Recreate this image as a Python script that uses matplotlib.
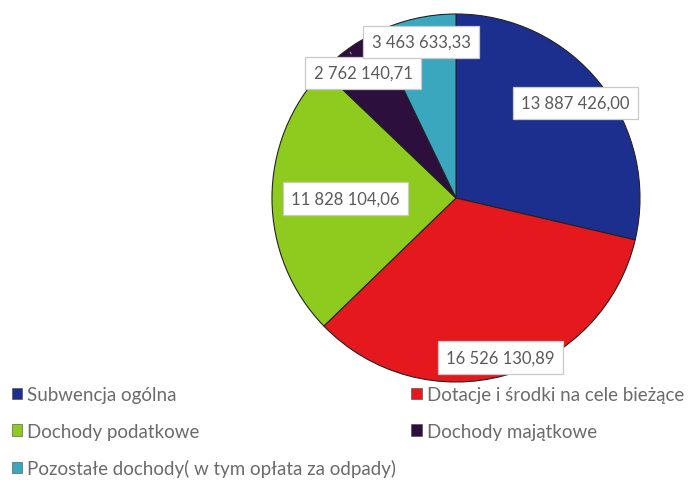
import numpy as np
import matplotlib.pyplot as plt
from matplotlib.patches import Patch

plt.rcParams['font.family'] = ['Lato', 'DejaVu Sans']

# dane
kategorie = ['Subwencja ogólna', 'Dotacje i środki na cele bieżące',
             'Dochody podatkowe', 'Dochody majątkowe',
             'Pozostałe dochody( w tym opłata za odpady)']
wartosci = [13887426.00, 16526130.89, 11828104.06, 2762140.71, 3463633.33]
etykiety = ['13 887 426,00', '16 526 130,89', '11 828 104,06',
            '2 762 140,71', '3 463 633,33']
kolory = ['#1d2f8e', '#e5181d', '#8fcb1f', '#2c0f3c', '#3ba7bf']

W, H = 691, 481
fig = plt.figure(figsize=(W / 100, H / 100), dpi=100)
fig.patch.set_facecolor('white')

# pie geometry (pixels)
cx, cy, r = 456, 199, 184
ax = fig.add_axes([(cx - r) / W, 1 - (cy + r) / H, 2 * r / W, 2 * r / H])
wedges, _ = ax.pie(wartosci, colors=kolory, startangle=90, counterclock=False,
                   radius=1, wedgeprops=dict(edgecolor='#222222', linewidth=0.8))
ax.set_xlim(-1, 1)
ax.set_ylim(-1, 1)
ax.set_aspect('equal')
ax.axis('off')

box = dict(boxstyle='square,pad=0.5', fc='white', ec='#c9c9c9', lw=0.9)
# label placement (radius factor for big slices, explicit offsets for small ones)
poz = [(0.83, None), (0.90, None), (0.60, None),
       (None, (-0.505, 0.679)), (None, (-0.19, 0.848))]
for w, lab, (rf, xy) in zip(wedges, etykiety, poz):
    mid = np.deg2rad((w.theta1 + w.theta2) / 2)
    if xy is None:
        ax.text(rf * np.cos(mid), rf * np.sin(mid), lab, ha='center', va='center',
                fontsize=12, color='#5a5a5a', bbox=box, zorder=5)
    else:
        ax.annotate(lab, xy=(0.98 * np.cos(mid), 0.98 * np.sin(mid)), xytext=xy,
                    ha='center', va='center', fontsize=12, color='#5a5a5a',
                    bbox=box, zorder=5,
                    arrowprops=dict(arrowstyle='-', color='#9a9a9a', lw=0.8))

kol = [0, 2, 4, 1, 3]
uchwyty = [Patch(facecolor=kolory[i], edgecolor='#444444', lw=0.4) for i in kol]
fig.legend(uchwyty, [kategorie[i] for i in kol], ncol=2, loc='upper left',
           bbox_to_anchor=(12 / W, 1 - 387 / H), frameon=False, fontsize=13.5,
           labelcolor='#6b6b6b', handlelength=0.55, handleheight=0.55,
           handletextpad=0.27, labelspacing=1.05, columnspacing=0.8,
           borderaxespad=0, borderpad=0)

fig.savefig('out.png', dpi=100)
